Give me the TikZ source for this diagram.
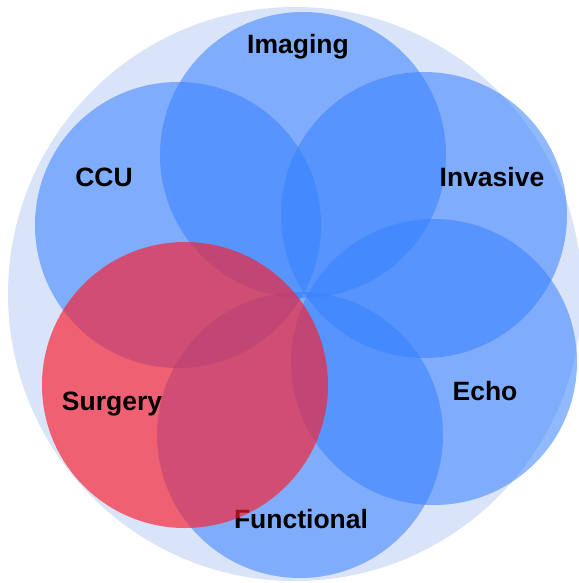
\documentclass[tikz,border=0pt]{standalone}
\usepackage{fontspec}
\setmainfont{Liberation Sans}
\begin{document}
\begin{tikzpicture}[x=1pt,y=-1pt,
  backdisc/.style={circle,inner sep=0pt,fill={rgb,255:red,218;green,228;blue,248}},
  petal/.style={circle,inner sep=0pt,minimum size=286pt,fill={rgb,255:red,55;green,128;blue,255},fill opacity=0.55},
  redpetal/.style={circle,inner sep=0pt,minimum size=286pt,fill={rgb,255:red,250;green,30;blue,45},fill opacity=0.66},
  lbl/.style={anchor=base,inner sep=0pt,font=\bfseries\fontsize{26.5}{31}\selectfont,text=black}]
\useasboundingbox (0,0) rectangle (578,583);
% outer disc
\node[backdisc,minimum size=574pt] (outer) at (295,294) {};
% blue petals
\node[petal] (imaging) at (303,155) {};
\node[petal] (invasive) at (424,215) {};
\node[petal] (echo) at (434,362) {};
\node[petal] (functional) at (300,435) {};
\node[petal] (ccu) at (178,225) {};
% labels of the blue petals
\node[lbl] (limaging) at (298,54) {Imaging};
\node[lbl] (linvasive) at (492,186) {Invasive};
\node[lbl] (lecho) at (485,400) {Echo};
\node[lbl] (lccu) at (104,186) {CCU};
\node[lbl] (lfunctional) at (301,528) {Functional};
% red petal on top
\node[redpetal] (surgery) at (185,385) {};
\node[lbl] (lsurgery) at (112,410) {Surgery};
\end{tikzpicture}
\end{document}
